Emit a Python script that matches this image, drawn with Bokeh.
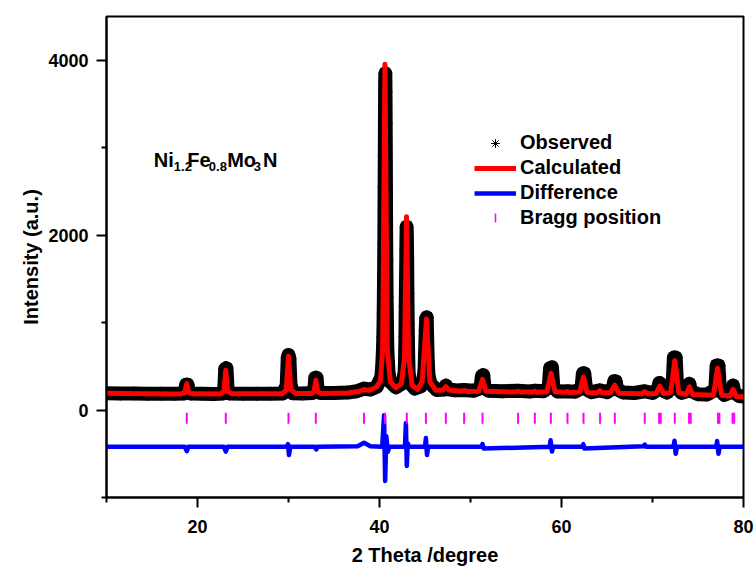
import math
from bokeh.plotting import figure
from bokeh.models import Label, Legend, LegendItem, FixedTicker
from bokeh.embed import file_html
from bokeh.resources import INLINE

# ---------------- data ----------------
calc_x = [10.0, 14.0, 18.2, 18.6, 18.82, 19.05, 19.5, 22.5, 22.9, 23.11, 23.3, 23.8,
          29.3, 29.75, 30.0, 30.25, 30.8, 32.5, 32.8, 33.0, 33.2, 33.6, 36.5, 37.8,
          38.3, 38.8, 39.6, 40.1, 40.35, 40.6, 40.85, 41.2, 41.8, 42.4, 42.75, 42.97,
          43.2, 43.6, 44.2, 44.7, 45.16, 45.55, 46.2, 47.0, 47.3, 47.6, 49.0, 49.3,
          49.6, 50.9, 51.32, 51.7, 54.9, 55.23, 55.5, 56.8, 57.07, 57.3, 58.4, 58.85,
          59.3, 60.4, 60.66, 60.9, 62.0, 62.42, 62.8, 63.9, 64.2, 64.5, 65.4, 65.85,
          66.3, 68.8, 69.15, 69.5, 70.4, 70.8, 71.2, 72.0, 72.45, 72.9, 73.7, 74.05,
          74.4, 76.7, 77.15, 77.6, 78.5, 78.85, 79.2, 80.0]
calc_y = [192, 186, 184, 200, 300, 200, 185, 184, 210, 455, 215, 185,
          186, 230, 615, 235, 188, 188, 210, 340, 210, 190, 195, 215,
          235, 225, 255, 330, 700, 3955, 700, 320, 255, 300, 600, 2210,
          600, 280, 235, 330, 1040, 320, 225, 230, 268, 228, 215, 225,
          213, 215, 350, 215, 205, 215, 205, 205, 215, 203, 210, 420,
          208, 203, 212, 202, 205, 380, 200, 198, 222, 197, 200, 285,
          193, 185, 210, 185, 190, 275, 190, 200, 565, 195, 180, 265,
          178, 170, 478, 170, 160, 238, 155, 152]

obs_x = [10.0, 11.5, 13.0, 14.5, 16.0, 17.5, 18.5, 18.6, 18.75, 18.9, 19.05, 19.3,
         20.5, 21.8, 22.8, 22.95, 23.05, 23.18, 23.3, 23.5, 25.0, 26.5, 28.0, 29.4,
         29.8, 29.92, 30.0, 30.1, 30.22, 30.5, 31.5, 32.6, 32.85, 32.95, 33.08, 33.2,
         33.5, 35.0, 36.5, 37.5, 38.3, 39.0, 39.7, 40.2, 40.3, 40.38, 40.42, 40.46,
         40.5, 40.53, 40.56, 40.58, 40.6, 40.62, 40.64, 40.66, 40.68, 40.7, 40.72,
         40.75, 40.78, 40.82, 40.86, 40.92, 41.0, 41.2, 41.8, 42.4, 42.6, 42.75,
         42.8, 42.85, 42.88, 42.92, 42.95, 42.98, 43.01, 43.04, 43.07, 43.1, 43.14,
         43.2, 43.4, 43.9, 44.5, 44.8, 44.95, 45.02, 45.08, 45.13, 45.19, 45.24,
         45.3, 45.38, 45.6, 46.3, 47.1, 47.3, 47.5, 48.3, 49.3, 50.3, 51.1, 51.25,
         51.4, 51.55, 52.0, 53.5, 55.2, 56.5, 57.1, 58.0, 58.6, 58.75, 58.95, 59.1,
         59.6, 60.7, 61.5, 62.2, 62.35, 62.5, 62.7, 63.3, 64.2, 65.0, 65.65, 65.8,
         65.95, 66.1, 66.8, 68.0, 69.15, 70.0, 70.6, 70.75, 70.9, 71.05, 71.6, 72.2,
         72.35, 72.55, 72.7, 73.2, 73.9, 74.05, 74.2, 75.0, 76.0, 76.9, 77.05, 77.25,
         77.4, 77.9, 78.7, 78.85, 79.0, 79.5, 80.0]
obs_y = [192, 188, 190, 186, 187, 185, 190, 210, 290, 290, 210, 188,
         185, 184, 190, 260, 470, 480, 250, 190, 186, 186, 187, 190,
         280, 600, 630, 590, 290, 192, 190, 195, 250, 370, 370, 240,
         195, 195, 200, 215, 245, 235, 265, 380, 500, 690, 840, 1100,
         1520, 1900, 2550, 2900, 3350, 3740, 3850, 3640, 3280, 2840, 2210,
         1710, 1300, 990, 690, 570, 420, 320, 260, 300, 330, 420,
         530, 840, 1180, 1520, 1830, 2095, 1980, 1710, 1330, 990, 690,
         420, 300, 245, 270, 320, 460, 690, 910, 1050, 1060, 800,
         570, 400, 300, 230, 235, 280, 240, 225, 230, 220, 250, 390,
         400, 250, 220, 215, 220, 212, 220, 215, 260, 480, 490, 260,
         212, 215, 210, 250, 420, 420, 240, 205, 225, 205, 250, 330,
         330, 240, 200, 195, 215, 195, 240, 310, 300, 230, 200, 260,
         600, 600, 260, 195, 220, 300, 220, 180, 178, 230, 510, 510,
         230, 172, 210, 280, 200, 160, 155]

diff_x = [10.0, 18.6, 18.82, 19.0, 22.9, 23.11, 23.3, 29.8, 29.95, 30.05, 30.2,
          32.9, 33.05, 33.2, 37.6, 38.3, 39.0, 40.3, 40.5, 40.62, 40.75, 40.9, 41.1,
          42.8, 42.9, 43.0, 43.1, 43.25, 45.0, 45.1, 45.22, 45.35, 51.2, 51.32, 51.45,
          58.7, 58.8, 58.95, 59.1, 62.3, 62.4, 62.5, 69.0, 69.15, 69.3, 72.3, 72.42,
          72.55, 72.7, 77.0, 77.1, 77.25, 77.4, 80.0]
diff_y = [-420, -420, -470, -420, -420, -475, -420, -420, -390, -515, -420,
          -420, -450, -420, -415, -375, -415, -420, -60, -810, -300, -480, -420,
          -420, -150, -640, -380, -420, -420, -320, -515, -420, -420, -390, -440,
          -420, -345, -475, -420, -420, -390, -440, -415, -395, -420, -420, -350,
          -500, -420, -420, -355, -500, -420, -420]

bragg_x = [18.82, 23.11, 30.0, 33.0, 38.3, 40.6, 43.0, 45.1, 47.29, 49.3, 51.32,
           55.23, 57.07, 58.83, 60.66, 62.42, 64.24, 65.86, 69.15, 70.73, 70.9,
           72.45, 74.02, 74.2, 77.2, 77.35, 78.8, 78.97]

x_ticks = [20, 40, 60, 80]
x_minor = [10, 30, 50, 70]
y_ticks = [0, 2000, 4000]
y_minor = [-1000, 1000, 3000]

FONT = "Liberation Sans"

# frame geometry (screen px) used only to place legend/annotation pieces
X0, X1, Y0, Y1 = 10.0, 80.0, -1000.0, 4500.0
FL, FR, FT, FB = 106, 743, 16, 497


def sx2x(px):
    return X0 + (px - FL) * (X1 - X0) / (FR - FL)


def sy2y(py):
    return Y0 + (FB - py) * (Y1 - Y0) / (FB - FT)


p = figure(width=755, height=578, x_range=(X0, X1), y_range=(Y0, Y1),
           output_backend="svg", toolbar_location=None,
           min_border_left=FL, min_border_right=755 - FR, min_border_top=FT,
           min_border_bottom=578 - FB)
p.grid.visible = False
p.outline_line_color = "black"
p.outline_line_width = 2
p.background_fill_color = "white"
p.border_fill_color = "white"

obs_line = p.line(obs_x, obs_y, line_color="black", line_width=14, line_join="round")
obs_pts = p.scatter(obs_x, obs_y, marker="asterisk", size=14, line_color="black",
                    line_width=1)
calc = p.line(calc_x, calc_y, line_color="#FF0000", line_width=5, line_join="round")
diff = p.line(diff_x, diff_y, line_color="#0000FF", line_width=4.5, line_join="round")
bragg = p.scatter(bragg_x, [-95] * len(bragg_x), marker="dash", angle=math.pi / 2,
                  size=11, line_color="#FF00FF", line_width=2)

# axes
p.xaxis.ticker = FixedTicker(ticks=x_ticks, minor_ticks=x_minor)
p.yaxis.ticker = FixedTicker(ticks=y_ticks, minor_ticks=y_minor)
p.xaxis.axis_label = "2 Theta /degree"
p.yaxis.axis_label = "Intensity (a.u.)"
for ax in (p.xaxis[0], p.yaxis[0]):
    ax.axis_line_width = 2
    ax.axis_line_color = "black"
    ax.major_tick_line_width = 2
    ax.minor_tick_line_width = 2
    ax.major_tick_in = 0
    ax.major_tick_out = 10
    ax.minor_tick_in = 0
    ax.minor_tick_out = 5
    ax.major_label_text_font = FONT
    ax.major_label_text_font_style = "bold"
    ax.major_label_text_font_size = "18px"
    ax.major_label_text_color = "black"
    ax.major_label_standoff = 8
    ax.axis_label_text_font = FONT
    ax.axis_label_text_font_style = "bold"
    ax.axis_label_text_font_size = "20px"
    ax.axis_label_text_color = "black"
p.xaxis.major_label_standoff = 12
p.xaxis.axis_label_standoff = 8
p.yaxis.axis_label_standoff = 3

# legend (the Bragg entry's vertical tick icon is drawn separately below)
bragg_key = p.scatter([], [], marker="dash", size=0, line_alpha=0, fill_alpha=0)
legend = Legend(items=[
    LegendItem(label="Observed", renderers=[obs_pts]),
    LegendItem(label="Calculated", renderers=[calc]),
    LegendItem(label="Difference", renderers=[diff]),
    LegendItem(label="Bragg position", renderers=[bragg_key]),
], location=(368, 268), padding=0, margin=0, spacing=2,
    glyph_width=42, glyph_height=22, label_height=22, label_standoff=4,
    border_line_alpha=0, background_fill_alpha=0,
    label_text_font=FONT, label_text_font_style="bold",
    label_text_font_size="20px", label_text_color="black")
p.add_layout(legend)
p.segment(x0=[sx2x(495)], y0=[sy2y(222)], x1=[sx2x(495)], y1=[sy2y(213)],
          line_color="#FF00FF", line_width=1.5)

# formula annotation Ni1.2Fe0.8Mo3N
parts = [("Ni", 153.3, 159, "20px"), ("1.2", 173.3, 165.5, "13px"),
         ("Fe", 186.7, 159, "20px"), ("0.8", 208.3, 165.5, "13px"),
         ("Mo", 226.7, 159, "20px"), ("3", 253.3, 165.5, "13px"),
         ("N", 262.5, 159, "20px")]
for txt, px, py, fs in parts:
    p.add_layout(Label(x=sx2x(px), y=sy2y(py), text=txt, text_font=FONT,
                       text_font_style="bold", text_font_size=fs,
                       text_baseline="alphabetic", text_color="black"))

open("out.html", "w").write(file_html(p, INLINE))
